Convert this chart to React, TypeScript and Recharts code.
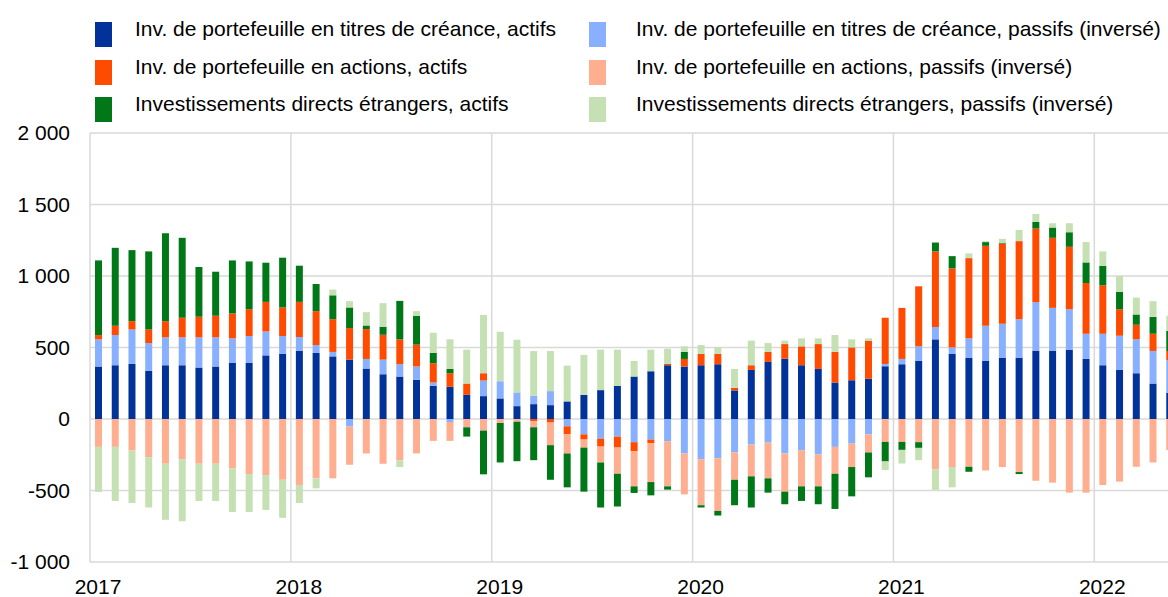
// Flux financiers de la zone euro — actifs / passifs (inversés), sommes mobiles
import React from "react";
import { BarChart, Bar, XAxis, YAxis, CartesianGrid } from "recharts";

const YEARS = ["2017", "2018", "2019", "2020", "2021", "2022"];
const Y_TICKS = [-1000, -500, 0, 500, 1000, 1500, 2000];

// monthly values, Jan 2017 -> May 2022
const debtAssets = [
  367, 376, 385, 336, 376, 376, 360, 367, 392, 392, 445, 455,
  478, 462, 438, 415, 353, 313, 297, 274, 232, 225, 169, 160,
  144, 90, 104, 97, 123, 169, 202, 232, 297, 334, 376, 367,
  376, 383, 200, 343, 399, 422, 376, 350, 255, 271, 281, 369,
  383, 406, 557, 455, 429, 406, 429, 429, 478, 478, 485, 422,
  376, 343, 320, 248, 183,
];
const debtLiab = [
  190, 211, 241, 195, 195, 195, 211, 204, 172, 188, 167, 125,
  95, 55, 31, -53, 67, 102, 86, 93, 23, -21, 0, 109,
  120, 96, 58, 98, -51, -107, -137, -123, -162, -144, -155, -241,
  -281, -274, -234, -179, -165, -241, -218, -248, -195, -172, -107, 16,
  37, 102, 86, 46, 135, 246, 237, 269, 339, 299, 283, 174,
  220, 239, 237, 228, 230,
];
const equityAssets = [
  30, 65, 58, 95, 113, 137, 144, 151, 174, 188, 207, 200,
  246, 237, 229, 221, 209, 174, 174, 153, 135, 95, 79, 51,
  0, 0, -16, -25, -56, -37, -56, -77, -63, -25, 9, 53,
  79, 72, 18, 33, 70, 102, 132, 174, 214, 230, 267, 323,
  357, 420, 529, 552, 561, 559, 559, 546, 515, 490, 436, 355,
  339, 186, 102, 120, 63,
];
const equityLiab = [
  -195, -195, -220, -267, -313, -281, -313, -313, -346, -385, -392, -425,
  -462, -415, -415, -267, -241, -313, -290, -241, -153, -132, -58, -81,
  -28, -19, -42, -158, -134, -56, -111, -183, -246, -272, -316, -286,
  -322, -369, -191, -222, -250, -267, -253, -223, -188, -164, -127, -160,
  -160, -162, -353, -336, -334, -360, -336, -371, -432, -445, -515, -515,
  -462, -438, -334, -304, -216,
];
const fdiAssets = [
  522, 545, 497, 546, 615, 559, 348, 308, 371, 334, 274, 348,
  253, 190, 167, 144, 25, 56, 269, 202, 72, 30, -65, -306,
  -276, -276, -230, -242, -237, -308, -315, -229, -46, -93, -23, 49,
  -16, -32, -178, -218, -100, -88, -102, -125, -246, -205, -174, -137,
  -56, -40, 62, 86, -35, 26, 5, -14, 46, 72, 102, 144,
  135, 121, 72, 118, 141,
];
const fdiLiab = [
  -315, -378, -367, -352, -392, -434, -260, -260, -304, -265, -244, -266,
  -125, -70, 40, 44, 93, 165, -46, 32, 141, 207, 237, 408,
  346, 368, 313, 280, 250, 279, 283, 253, 109, 151, 107, 39,
  62, 46, 132, 172, 62, 24, 56, 40, 118, 56, 16, -60,
  -95, -86, -143, -142, 33, 7, 30, 78, 56, 30, 63, 142,
  102, 111, 118, 110, 105,
];

const SERIES = [
  { key: "debtAssets", name: "Inv. de portefeuille en titres de créance, actifs", color: "#003299" },
  { key: "debtLiab", name: "Inv. de portefeuille en titres de créance, passifs (inversé)", color: "#89AFFF" },
  { key: "equityAssets", name: "Inv. de portefeuille en actions, actifs", color: "#FF4B00" },
  { key: "equityLiab", name: "Inv. de portefeuille en actions, passifs (inversé)", color: "#FFAE90" },
  { key: "fdiAssets", name: "Investissements directs étrangers, actifs", color: "#007817" },
  { key: "fdiLiab", name: "Investissements directs étrangers, passifs (inversé)", color: "#C5E0B3" },
];

const data = debtAssets.map((v, i) => ({
  x: i + 0.5,
  debtAssets: v,
  debtLiab: debtLiab[i],
  equityAssets: equityAssets[i],
  equityLiab: equityLiab[i],
  fdiAssets: fdiAssets[i],
  fdiLiab: fdiLiab[i],
}));

const fmt = (v: number) => {
  const a = Math.abs(v);
  if (a < 1000) return String(v);
  const s = `${Math.floor(a / 1000)} ${String(a % 1000).padStart(3, "0")}`;
  return v < 0 ? `-${s}` : s;
};

const FONT = "'Liberation Sans', Arial, sans-serif";

function Legend() {
  // left column: assets, right column: liabilities
  const order = [0, 2, 4, 1, 3, 5];
  return (
    <>
      {order.map((si, n) => {
        const s = SERIES[si];
        const col = n < 3 ? 0 : 1;
        const row = n % 3;
        const top = 22 + row * 37.5;
        return (
          <React.Fragment key={s.key}>
            <div
              style={{
                position: "absolute",
                left: col === 0 ? 95 : 589,
                top,
                width: 17,
                height: 25,
                background: s.color,
              }}
            />
            <div
              style={{
                position: "absolute",
                left: col === 0 ? 135 : 636,
                top: top - 5,
                fontSize: 21,
                lineHeight: "24px",
                color: "#000",
                whiteSpace: "nowrap",
              }}
            >
              {s.name}
            </div>
          </React.Fragment>
        );
      })}
    </>
  );
}

export default function App() {
  return (
    <div
      style={{
        position: "absolute",
        left: 0,
        top: 0,
        width: 1168,
        height: 597,
        overflow: "hidden",
        background: "#fff",
        fontFamily: FONT,
      }}
    >
      <Legend />
      <div style={{ position: "absolute", left: 0, top: 0 }}>
        <BarChart
          width={1178}
          height={597}
          data={data}
          stackOffset="sign"
          barSize={7}
          margin={{ top: 133, right: 0, bottom: 0, left: 0 }}
        >
          <CartesianGrid stroke="#d9d9d9" strokeWidth={1.5} />
          <XAxis
            type="number"
            dataKey="x"
            domain={[0, 65]}
            ticks={[0, 12, 24, 36, 48, 60]}
            interval={0}
            allowDataOverflow
            tickFormatter={(v: number) => YEARS[v / 12]}
            axisLine={false}
            tickLine={false}
            tickSize={0}
            tickMargin={17}
            height={35}
            tick={{ fill: "#000", fontSize: 21, fontFamily: FONT, dx: 8 }}
          />
          <YAxis
            domain={[-1000, 2000]}
            ticks={Y_TICKS}
            interval={0}
            width={90}
            axisLine={false}
            tickLine={false}
            tickSize={0}
            tickMargin={20}
            tickFormatter={fmt}
            tick={{ fill: "#000", fontSize: 21, fontFamily: FONT }}
          />
          {SERIES.map((s) => (
            <Bar
              key={s.key}
              dataKey={s.key}
              name={s.name}
              stackId="a"
              fill={s.color}
              isAnimationActive={false}
            />
          ))}
        </BarChart>
      </div>
    </div>
  );
}
